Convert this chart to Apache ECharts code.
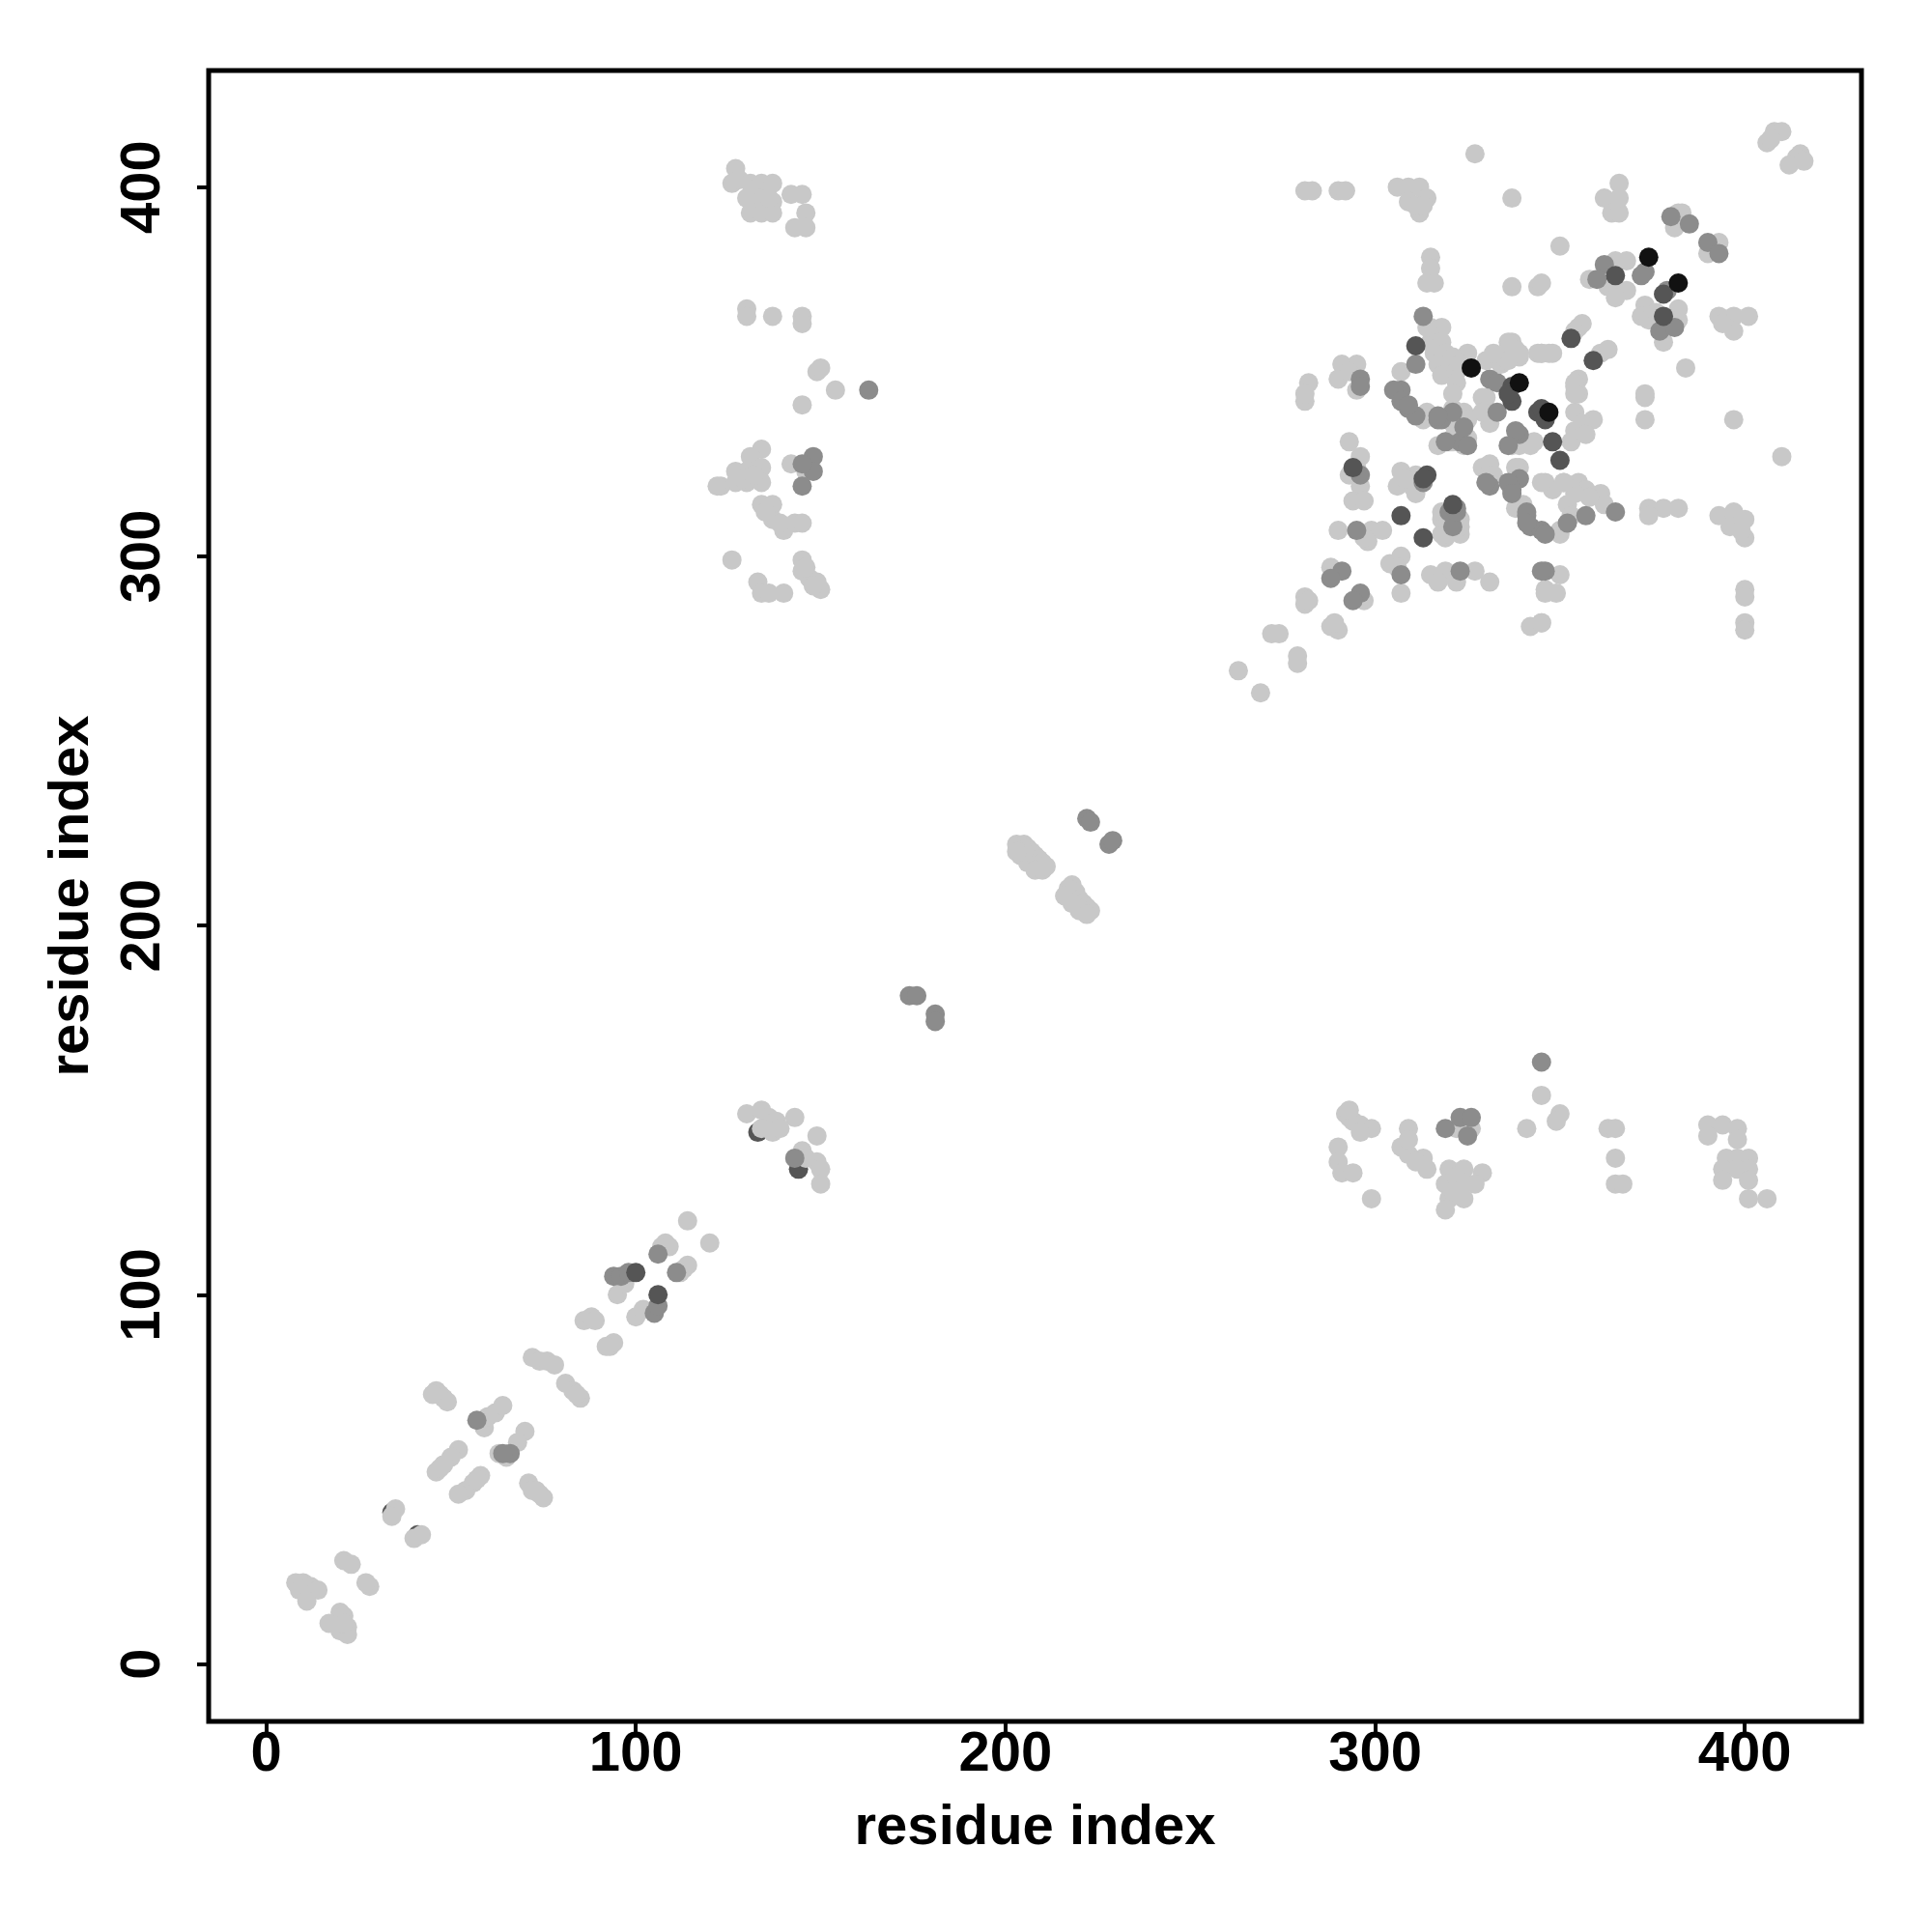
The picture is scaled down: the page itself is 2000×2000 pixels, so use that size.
<!DOCTYPE html>
<html>
<head>
<meta charset="utf-8">
<script src="https://cdn.jsdelivr.net/npm/echarts@6/dist/echarts.min.js"></script>
<style>html,body{margin:0;padding:0;background:#fff}#c{width:2000px;height:2000px}</style>
</head>
<body>
<div id="c"></div>
<script>
const tickValues = [0, 100, 200, 300, 400];
const axisTitle = "residue index";

const lightPoints = [
[8,22],[10,22],[12,21],[14,20],[9,20],[11,17],
[21,28],[23,27],[28,21],[27,22],
[17,11],[20,14],[21,13],[22,10],[22,8],[20,9],[21,11],
[35,42],[34,40],[40,34],[42,35],
[46,74],[47,73],[48,72],[49,71],[45,73],
[59,64],[60,67],[62,68],[64,70],
[70,63],[68,60],[63,57],[65,56],
[52,58],[50,56],[48,54],[46,52],[47,53],
[58,51],[56,49],[54,47],[52,46],[57,50],
[71,49],[73,47],[74,46],[72,47],[75,45],
[72,83],[74,82],[76,82],[78,81],
[81,76],[83,74],[85,72],[84,73],
[86,93],[88,94],[89,93],
[93,86],[94,87],[92,86],
[95,100],[97,103],
[107,113],[108,114],[109,113],
[114,120],[120,114],
[113,107],[112,106],[114,108],
[100,94],[102,96],
[130,149],[134,150],[136,148],[138,147],[143,148],[134,145],[137,144],[139,145],
[149,143],[145,139],[149,136],[150,134],[150,130],[146,137],
[203,222],[204,221],[205,222],[206,221],[207,220],[208,219],[209,218],[210,217],[204,219],[206,217],[208,215],[210,215],[211,216],[205,220],[203,220],
[218,211],[217,210],[216,208],[219,209],[220,207],[221,206],[222,205],[223,204],[220,204],[222,203],[218,206],
[127,405],[126,401],[128,402],[131,401],[134,401],[137,401],[137,396],[131,393],[134,393],[137,393],[142,398],[145,398],[146,393],[143,389],[146,389],[133,397],[130,397],[136,397],
[130,367],[130,365],[137,365],[145,365],[145,363],
[149,350],[150,351],[154,345],[145,341],
[134,329],[131,327],[127,323],[130,323],[134,324],[127,320],[130,320],[134,320],[123,319],[129,321],[132,322],[122,319],
[142,325],[146,323],
[134,314],[137,314],[137,310],[140,307],[143,309],[145,309],[135,312],[139,309],
[126,299],
[145,299],[145,296],[147,294],[149,293],[150,291],[148,292],[146,297],
[133,293],[134,290],[136,290],[140,290],
[345,154],[350,149],[349,147],[341,145],[363,145],[365,145],[365,137],[365,130],[367,130],
[292,149],[293,148],[294,147],[296,146],[299,145],[296,144],[293,150],
[290,140],[290,136],[291,133],[294,133],[299,126],
[309,145],[307,140],[309,138],[313,137],[314,134],[311,136],[309,142],
[322,145],[326,145],
[320,134],[324,134],[329,133],[319,130],[324,130],[320,126],[324,126],[319,123],[322,132],[321,128],[327,130],
[390,146],[394,146],[398,145],[390,143],[398,142],[395,137],[398,137],[401,137],[394,134],[398,134],[401,134],[394,131],[401,131],[401,126],[406,126],
[327,409],[281,399],[283,399],[290,399],[292,399],
[306,400],[309,400],[312,400],[314,397],[309,396],[312,393],[311,395],[313,395],
[337,397],[315,381],[315,378],[314,374],[316,374],[337,373],[344,373],
[315,362],[318,362],[315,358],[318,358],[316,355],[319,355],[317,352],[320,352],[318,349],
[307,350],[325,355],[321,354],[322,350],[322,347],[321,344],[323,352],
[337,358],[338,356],[336,355],[332,354],[339,354],[330,353],[334,352],[336,353],[344,355],[329,343],
[281,342],[293,331],[296,327],[293,322],[296,319],[294,315],[297,315],[295,324],
[307,323],[311,322],[306,319],[310,319],[311,317],[308,321],
[318,310],[323,310],[318,306],[323,306],[319,305],[320,308],
[290,307],[299,307],[298,304],[302,307],[297,305],
[307,300],[304,298],[306,297],[307,290],[288,297],[297,288],
[281,289],[281,287],[282,288],[288,281],[290,280],[289,282],[272,279],[274,279],[279,273],[279,271],[263,269],[269,263],
[315,295],[319,296],[327,296],[322,293],[331,293],[317,293],
[342,281],[345,282],
[314,339],[321,339],[324,339],[331,339],[320,331],[317,330],
[329,324],[331,322],[330,320],
[337,330],[342,330],[339,324],[340,314],
[346,291],
[354,339],[359,337],[354,334],[353,331],[356,336],[357,333],
[373,337],[373,343],[397,337],[410,327],
[346,320],[351,320],[355,320],[357,318],[361,317],[362,314],[352,314],[353,311],[350,306],[358,316],[354,317],[348,318],
[374,313],[378,313],[382,313],[374,311],
[393,311],[397,312],[400,310],[396,308],[400,305],[399,307],
[350,295],[346,290],[349,290],[345,282],
[400,291],[400,289],[400,282],[400,280],
[408,415],[410,415],[406,412],[407,413],[415,409],[414,408],[412,406],[416,407],
[366,401],[362,397],[364,393],[366,393],[366,397],
[350,384],[345,374],
[365,380],[368,380],[358,375],[363,373],[366,372],[368,372],[365,370],
[382,393],[383,393],[381,389],[393,385],[390,382],
[373,368],[372,365],[374,364],[382,367],[382,364],[378,358],[376,366],
[393,365],[397,365],[401,365],[397,361],[394,363],
[384,351],[373,344],[355,362],[356,363],[361,355],[363,356],[347,355],[345,355],[355,348],[355,344],[354,346],
[291,352],[295,352],[290,348],[282,347],[281,344],[293,350],[295,345],
[313,337],[321,340],[325,332],[321,332],[331,336],
[330,343],[329,339],[325,337],[321,336],
[321,331],[324,330],[339,330],[343,331],
[331,325],[332,322],[338,324],[339,321],[338,313],[350,307],[345,320],[351,320],
[318,312],[319,308],[323,308],[319,306],
[336,358],[332,355],[339,355],[345,355],[348,355],[354,361],[354,347],[354,344],[314,362]
];

// darker contacts partly hidden beneath the light ones
const hiddenDarkPoints = [
[133,144],[144,134],[34,41],[41,35]
];

const midPoints = [
[57,66],[66,57],[64,57],
[94,105],[96,105],[98,106],[106,111],[111,106],[105,95],[106,97],
[143,137],
[174,181],[176,181],[181,176],[181,174],[222,229],[223,228],[228,222],[229,223],
[163,345],[148,327],[148,323],[145,319],[145,325],
[345,163],[319,145],[323,148],[326,148],[325,143],
[313,365],[311,352],[307,345],[331,348],[333,347],
[296,348],[296,346],[305,345],[307,342],[309,340],[311,338],[317,337],
[296,322],[313,320],[322,313],[320,312],[321,308],[295,307],[307,295],[291,296],[288,294],[296,290],[294,288],[323,296],
[309,341],[318,337],[333,339],[323,331],[331,319],
[339,333],[339,321],[337,318],[341,311],[342,308],[345,307],[346,296],
[357,311],[352,309],[346,306],[365,312],[345,296],
[362,379],[360,375],[373,377],[372,376],[379,372],[380,392],[385,390],[390,385],[393,382],[377,361],[381,362],
[321,339],[317,338],[319,331],[338,334],[336,330],[330,320],[336,320],[337,317],[341,312],[341,309],[322,312],[325,330],[324,335]
];

const darkPoints = [
[100,106],[106,100],[311,357],[294,324],[314,322],[313,321],[307,311],[313,305],
[337,342],[344,339],[345,340],[346,337],[348,331],[350,326],[365,376],[378,365],[353,359],[359,353],
[321,314],[337,346],[336,344],[378,371]
];

const blackPoints = [
[339,347],[347,339],[374,381],[382,374],[326,351]
];

const FONT = '"Liberation Sans", Arial, Helvetica, sans-serif';
const chart = echarts.init(document.getElementById('c'), null, {renderer: 'canvas'});

function axisCommon() {
  return {
    type: 'value',
    min: -15.56,
    max: 431.56,
    name: axisTitle,
    nameLocation: 'middle',
    nameTextStyle: {fontFamily: FONT, fontWeight: 'bold', fontSize: 58, color: '#000'},
    axisLine: {show: false, onZero: false},
    splitLine: {show: false},
    axisTick: {show: true, inside: false, length: 12, lineStyle: {color: '#000', width: 4}, customValues: tickValues},
    axisLabel: {show: true, fontFamily: FONT, fontWeight: 'bold', fontSize: 58, color: '#000', customValues: tickValues}
  };
}

const xAxis = axisCommon();
xAxis.nameGap = 82;
xAxis.axisLabel.margin = 6;

const yAxis = axisCommon();
yAxis.nameGap = 112;
yAxis.axisLabel.margin = 38;
yAxis.axisLabel.rotate = 90;

function sc(data, color, z) {
  return {type: 'scatter', data: data, symbol: 'circle', symbolSize: 20, z: z,
    itemStyle: {color: color, opacity: 1, borderWidth: 0}, silent: true, animation: false};
}

chart.setOption({
  animation: false,
  backgroundColor: '#fff',
  grid: {left: 216, right: 73, top: 73, bottom: 218, show: true, borderColor: '#000', borderWidth: 5, backgroundColor: 'transparent'},
  xAxis: xAxis,
  yAxis: yAxis,
  series: [
    sc(hiddenDarkPoints, '#555555', 1),
    sc(lightPoints, '#c8c8c8', 2),
    sc(midPoints, '#8c8c8c', 3),
    sc(darkPoints, '#555555', 4),
    sc(blackPoints, '#111111', 5)
  ]
});
</script>
</body>
</html>
